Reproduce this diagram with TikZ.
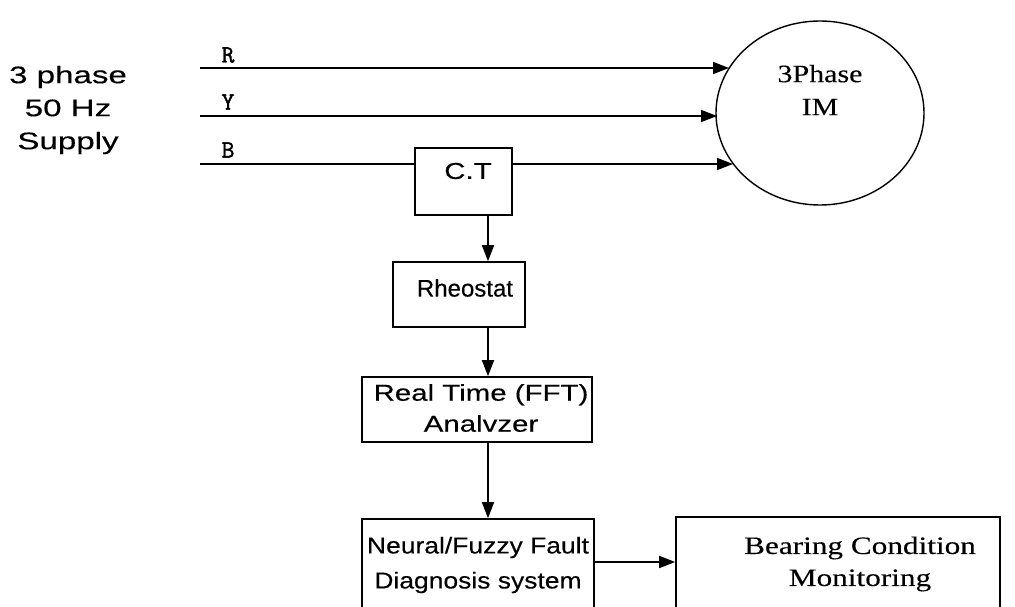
\documentclass[tikz,border=0pt]{standalone}
\usepackage{fontspec}
\setmainfont{Liberation Serif}
\newfontfamily\sansA[FakeBold=0.25]{Liberation Sans}
\newfontfamily\sansB[FakeStretch=1.15,FakeBold=0.25]{Liberation Sans}
\newfontfamily\sansC[FakeStretch=1.28,FakeBold=0.25]{Liberation Sans}
\newfontfamily\sansD[FakeStretch=1.38,FakeBold=0.25]{Liberation Sans}
\newfontfamily\serifA[FakeStretch=1.2,FakeBold=0.2]{Liberation Serif}
\newfontfamily\serifB[FakeStretch=1.25,FakeBold=0.2]{Liberation Serif}
\newfontfamily\monoB[FakeBold=1.5]{Latin Modern Mono}
\usetikzlibrary{arrows.meta,shapes.geometric}
\begin{document}
\begin{tikzpicture}[x=1pt,y=-1pt,
  wire/.style={line width=1.6pt},
  arr/.style={wire,-{Triangle[length=16pt,width=12pt]}},
  blk/.style={draw,line width=1.6pt,inner sep=0pt},
  txt/.style={align=center,inner sep=0pt},
  mtxt/.style={font=\monoB\fontsize{25}{26}\selectfont}
]
\useasboundingbox (0,0) rectangle (1015,607);
\clip (0,0) rectangle (1015,607);

% supply text
\node[txt,font=\sansD\fontsize{24}{33}\selectfont] (supply) at (68,110) {3 phase\\50 Hz\\Supply};

% phase line starts
\coordinate (r0) at (200,68);
\coordinate (y0) at (200,116);
\coordinate (b0) at (200,164);
\node[mtxt] (rlab) at (228,55) {R};
\node[mtxt] (ylab) at (228,102) {Y};
\node[mtxt] (blab) at (228,150) {B};

% motor
\node[ellipse,draw,line width=1.4pt,minimum width=208pt,minimum height=184pt,inner sep=0pt] (im) at (820,113) {};
\node[txt,font=\serifA\fontsize{25}{33}\selectfont] (imtxt) at (820,90) {3Phase\\IM};
\coordinate (rend) at (729,68);
\coordinate (yend) at (717,116);
\coordinate (bend) at (733,164);

% blocks
\node[blk,minimum width=97pt,minimum height=67pt] (ct) at (463.5,181.5) {};
\node[txt,font=\sansC\fontsize{23}{32}\selectfont] (cttxt) at (468,171) {C.T};
\node[blk,minimum width=132pt,minimum height=65pt] (rh) at (459,294.5) {};
\node[txt,font=\sansA\fontsize{24}{32}\selectfont] (rhtxt) at (465,288) {Rheostat};
\node[blk,minimum width=230pt,minimum height=65pt] (rt) at (477,409.5) {};
\node[txt,font=\sansC\fontsize{23}{31}\selectfont] (rttxt) at (481,408) {Real Time (FFT)\\Analvzer};
\node[blk,minimum width=232pt,minimum height=98pt] (nf) at (478,568) {};
\node[txt,font=\sansB\fontsize{23}{35}\selectfont] (nftxt) at (478,565) {Neural/Fuzzy Fault\\Diagnosis system};
\node[blk,minimum width=324pt,minimum height=100pt] (bc) at (838,567) {};
\node[txt,font=\serifB\fontsize{25}{32}\selectfont] (bctxt) at (860,564) {Bearing Condition\\Monitoring};

\coordinate (col) at (488,0);
\coordinate (hrow) at (0,562);

% connectors
\draw[arr] (r0) -- (rend);
\draw[arr] (y0) -- (yend);
\draw[wire] (b0) -- (b0 -| ct.west);
\draw[arr] (b0 -| ct.east) -- (bend);
\draw[arr] (ct.south -| col) -- (rh.north -| col);
\draw[arr] (rh.south -| col) -- (rt.north -| col);
\draw[arr] (rt.south -| col) -- (nf.north -| col);
\draw[arr] (nf.east |- hrow) -- (bc.west |- hrow);
\end{tikzpicture}
\end{document}
